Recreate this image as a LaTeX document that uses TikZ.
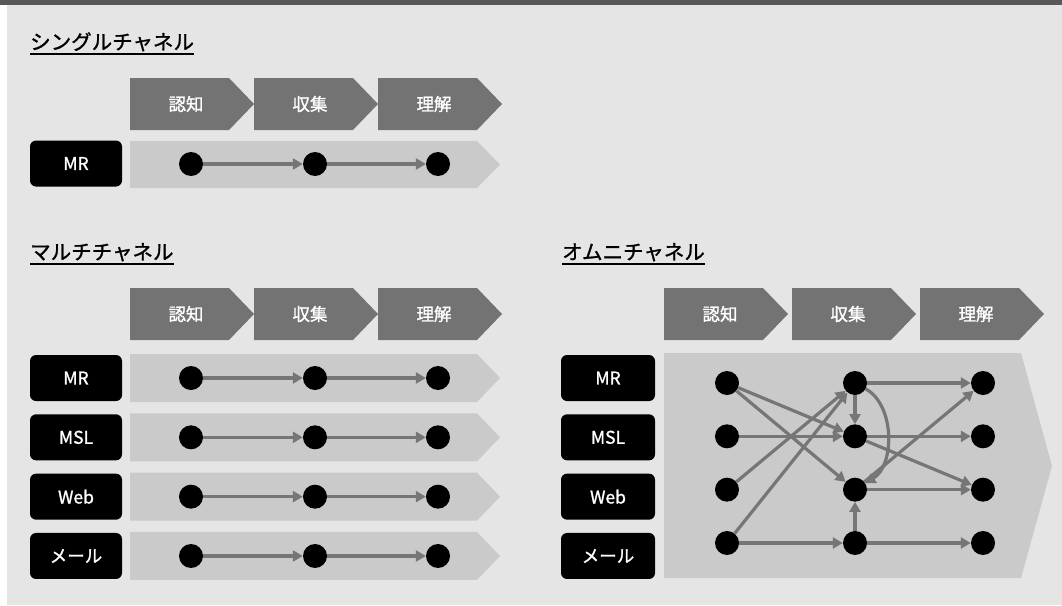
\documentclass[tikz,border=0pt]{standalone}
\usepackage{fontspec}
\setmainfont{Noto Sans CJK JP}[FakeBold=1.2]
\usetikzlibrary{arrows.meta,calc}
\definecolor{topbar}{HTML}{58575A}
\definecolor{bgc}{HTML}{E5E5E5}
\definecolor{chevc}{HTML}{737373}
\definecolor{bandc}{HTML}{C9CAC9}
\definecolor{arrowc}{HTML}{767676}
\newcommand\mychev[4]{%
  \fill[chevc] (#1,#2) -- ++(99,0) -- ++(25,26) -- ++(-25,26) -- ++(-99,0) -- cycle;
  \node[chl] (#4) at (#1+56,#2+26) {#3};}
% x0, xflat, xtip, ytop, ybottom
\newcommand\myband[5]{%
  \fill[bandc] (#1,#4) -- (#2,#4) -- (#3,{(#4+#5)/2}) -- (#2,#5) -- (#1,#5) -- cycle;}
\begin{document}
\begin{tikzpicture}[x=1pt,y=-1pt,
  dot/.style={circle,fill=black,inner sep=0pt,minimum size=24pt},
  lab/.style={rounded corners=6pt,fill=black,text=white,minimum height=46pt,
    font=\fontsize{17.5}{17.5}\selectfont,inner sep=0pt},
  chl/.style={text=white,font=\fontsize{17.5}{17.5}\selectfont,inner sep=0pt},
  ttl/.style={anchor=base west,inner sep=0pt,font=\fontsize{20.5}{20.5}\selectfont},
  conn/.style={draw=arrowc,line width=3.2pt,-{Triangle[length=10pt,width=11pt]}},
  uline/.style={line width=1.5pt}]
\useasboundingbox (0,0) rectangle (1062,605);
\fill[white] (0,0) rectangle (1062,605);
\fill[bgc] (7,5) rectangle (1062,605);
\fill[topbar] (0,0) rectangle (1062,5);

% ---------- Single channel ----------
\node[ttl] (t1) at (30,49.5) {シングルチャネル};
\draw[uline] ($(t1.base west)+(0,4.5)$) -- ($(t1.base east)+(0,4.5)$);
\mychev{130}{78}{認知}{s1}
\mychev{254}{78}{収集}{s2}
\mychev{378}{78}{理解}{s3}
\myband{130}{477}{500}{141}{188}
\node[lab,minimum width=92pt] (smr) at (76,163.5) {MR};
\node[dot] (sa) at (191,164) {};
\node[dot] (sb) at (315,164) {};
\node[dot] (sc) at (438,164) {};
\draw[conn] (sa) -- (sb);
\draw[conn] (sb) -- (sc);

% ---------- Multi channel ----------
\node[ttl] (t2) at (30,259.5) {マルチチャネル};
\draw[uline] ($(t2.base west)+(0,4.5)$) -- ($(t2.base east)+(0,4.5)$);
\mychev{130}{288}{認知}{m1}
\mychev{254}{288}{収集}{m2}
\mychev{378}{288}{理解}{m3}
\foreach \i/\t in {0/MR,1/MSL,2/Web,3/メール}{
  \pgfmathsetmacro\yy{378+59.33*\i}
  \myband{130}{477}{500}{\yy-24}{\yy+24}
  \node[lab,minimum width=92pt] (ml\i) at (76,\yy) {\t};
  \node[dot] (ma\i) at (191,\yy) {};
  \node[dot] (mb\i) at (315,\yy) {};
  \node[dot] (mc\i) at (438,\yy) {};
  \draw[conn] (ma\i) -- (mb\i);
  \draw[conn] (mb\i) -- (mc\i);
}

% ---------- Omni channel ----------
\node[ttl] (t3) at (562,259.5) {オムニチャネル};
\draw[uline] ($(t3.base west)+(0,4.5)$) -- ($(t3.base east)+(0,4.5)$);
\mychev{664}{288}{認知}{o1}
\mychev{792}{288}{収集}{o2}
\mychev{920}{288}{理解}{o3}
\fill[bandc] (664,353) -- (1021,353) -- (1052,466) -- (1021,578) -- (664,578) -- cycle;
\foreach \i/\t in {1/MR,2/MSL,3/Web,4/メール}{
  \pgfmathsetmacro\yy{378+59.33*(\i-1)}
  \node[lab,minimum width=94pt] (ol\i) at (608,\yy) {\t};
  \pgfmathsetmacro\yd{383+53.33*(\i-1)}
  \node[dot] (A\i) at (727,\yd) {};
  \node[dot] (B\i) at (855,\yd) {};
  \node[dot] (C\i) at (983,\yd) {};
}
\draw[conn] (A1) -- (B2);
\draw[conn] (A1) -- (B3);
\draw[conn] (A2) -- (B2);
\draw[conn] (A3) -- (B1);
\draw[conn] (A4) -- (B1);
\draw[conn] (A4) -- (B4);
\draw[conn] (B1) -- (B2);
\draw[conn] (B1) .. controls (895,405) and (895,465) .. (B3);
\draw[conn] (B4) -- (B3);
\draw[conn] (B1) -- (C1);
\draw[conn] (B2) -- (C2);
\draw[conn] (B2) -- (C3);
\draw[conn] (B3) -- (C1);
\draw[conn] (B3) -- (C3);
\draw[conn] (B4) -- (C4);
\end{tikzpicture}
\end{document}
